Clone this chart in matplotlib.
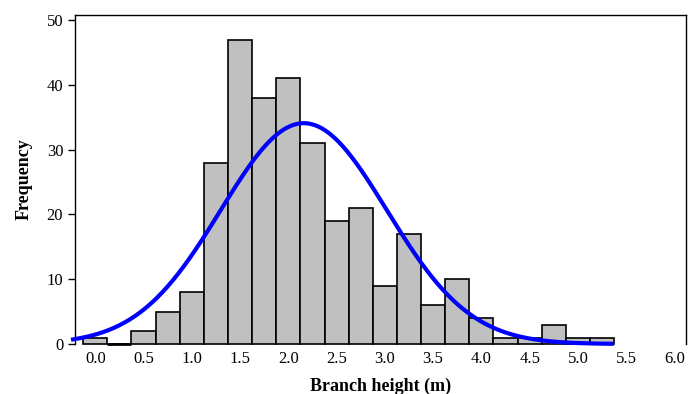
import numpy as np
import matplotlib.pyplot as plt

# histogram bins (bin centres, width 0.25 m) and counts
bin_centres = np.arange(0, 5.5, 0.25)
counts = [1, 0, 2, 5, 8, 28, 47, 38, 41, 31, 19, 21, 9, 17, 6, 10, 4, 1, 1, 3, 1, 1]
bin_width = 0.25

# fitted normal curve parameters
fit_mean = 2.16
fit_sd = 0.86

x_ticks = [0.0, 0.5, 1.0, 1.5, 2.0, 2.5, 3.0, 3.5, 4.0, 4.5, 5.0, 5.5, 6.0]
y_ticks = [0, 10, 20, 30, 40, 50]

plt.rcParams['font.family'] = ['Liberation Serif', 'DejaVu Serif']

fig = plt.figure(figsize=(6.88, 3.94), dpi=100)
ax = fig.add_axes([75 / 688, 1 - 344 / 394, 611 / 688, 329 / 394])

ax.bar(bin_centres, counts, width=bin_width, color='#c0c0c0',
       edgecolor='black', linewidth=1.2, zorder=2, clip_on=False)

# empty bins still show their flat edge
for c, n in zip(bin_centres, counts):
    if n == 0:
        ax.hlines(0, c - bin_width / 2, c + bin_width / 2, color='black',
                  linewidth=2.0, zorder=2, clip_on=False)

n_total = sum(counts)
xs = np.linspace(-0.23, 5.35, 400)
ys = n_total * bin_width / (fit_sd * np.sqrt(2 * np.pi)) * np.exp(-0.5 * ((xs - fit_mean) / fit_sd) ** 2)
ax.plot(xs, ys, color='#0000ff', linewidth=3.0, zorder=3, clip_on=False)

ax.set_xlim(-0.21, 6.12)
ax.set_ylim(0, 50.8)
ax.set_xticks(x_ticks)
ax.set_xticklabels([f'{t:.1f}' for t in x_ticks])
ax.set_yticks(y_ticks)
ax.tick_params(axis='x', length=0, pad=5, labelsize=12)
ax.tick_params(axis='y', length=5, width=1, labelsize=12)
ax.spines['bottom'].set_visible(False)
for s in ['left', 'top', 'right']:
    ax.spines[s].set_linewidth(1.0)

ax.set_xlabel('Branch height (m)', fontsize=13, fontweight='bold', labelpad=8)
ax.set_ylabel('Frequency', fontsize=13, fontweight='bold', labelpad=10)

fig.savefig('out.png', dpi=100)
